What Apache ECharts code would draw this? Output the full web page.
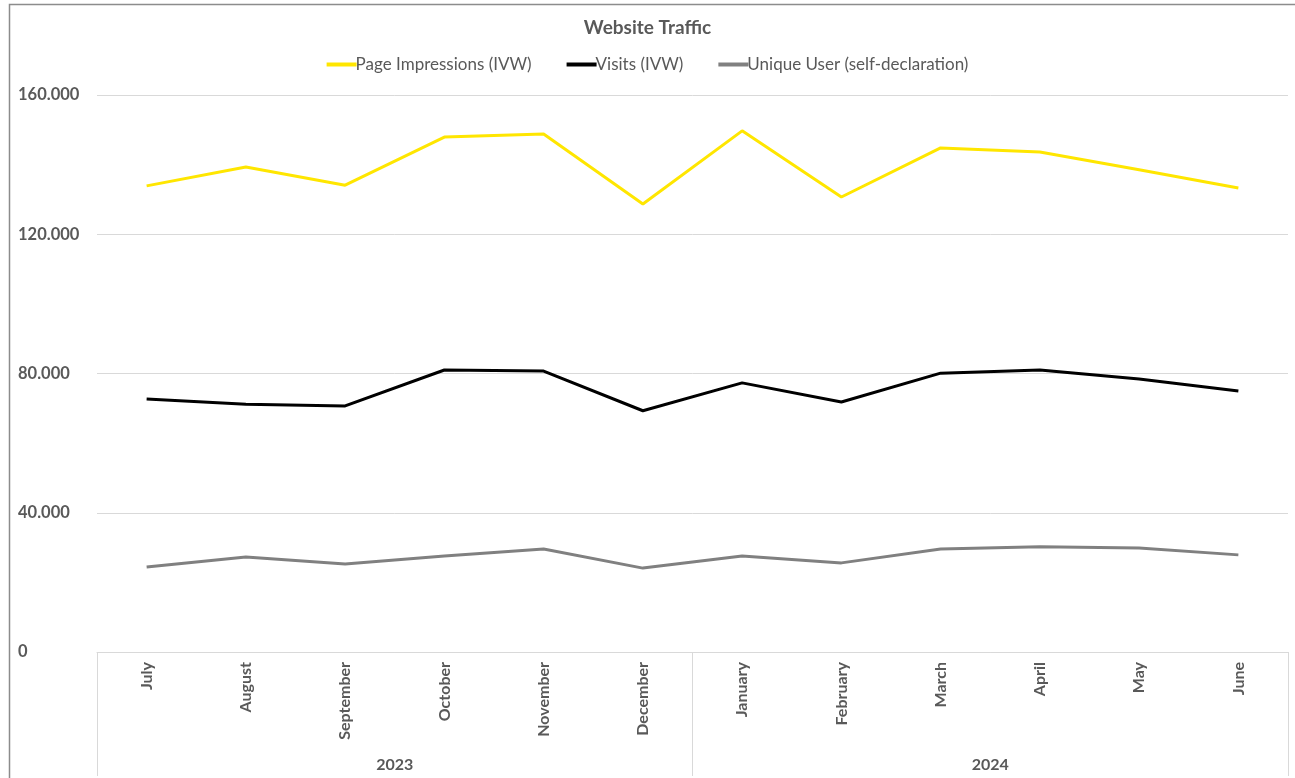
<!DOCTYPE html>
<html>
<head>
<meta charset="utf-8">
<style>
  html, body { margin: 0; padding: 0; background: #fff; }
  #chart { width: 1295px; height: 778px; }
</style>
<script src="https://cdn.jsdelivr.net/npm/echarts@6/dist/echarts.min.js"></script>
</head>
<body>
<div id="chart"></div>
<script>
const months = ['July','August','September','October','November','December','January','February','March','April','May','June'];
const years = ['2023','2024'];
const pageImpressions = [133900, 139300, 134100, 147900, 148800, 128700, 149700, 130700, 144800, 143600, 138500, 133300];
const visits = [72700, 71200, 70700, 81000, 80700, 69300, 77300, 71800, 80100, 81000, 78400, 75000];
const uniqueUsers = [24400, 27300, 25300, 27600, 29600, 24100, 27600, 25600, 29600, 30200, 29900, 27900];
const yTicks = [0, 40000, 80000, 120000, 160000];

const FONT = 'Lato, "Open Sans", sans-serif';
const TXT = '#595959';

function fmt(v) {
  return String(v).replace(/\B(?=(\d{3})+(?!\d))/g, '.');
}

const chart = echarts.init(document.getElementById('chart'), null, { renderer: 'canvas' });
chart.setOption({
  animation: false,
  backgroundColor: '#ffffff',
  title: {
    text: 'Website Traffic',
    left: 'center',
    top: 13,
    textStyle: { fontFamily: FONT, fontSize: 19, fontWeight: 'bold', color: TXT }
  },
  legend: {
    top: 51,
    left: 'center',
    itemGap: 35,
    itemWidth: 30,
    itemHeight: 4,
    icon: 'rect',
    textStyle: { fontFamily: FONT, fontSize: 17, color: TXT, padding: [0, 0, 0, -6] },
    data: ['Page Impressions (IVW)', 'Visits (IVW)', 'Unique User (self-declaration)']
  },
  graphic: [{
    type: 'rect',
    shape: { x: 9.5, y: 4.5, width: 1400, height: 900 },
    style: { fill: 'none', stroke: '#8c8c8c', lineWidth: 1.5 },
    silent: true,
    z: 0
  }],
  grid: { left: 97, right: 7, top: 95, bottom: 126, containLabel: false },
  xAxis: [{
    type: 'category',
    data: months,
    boundaryGap: true,
    axisLine: { show: true, lineStyle: { color: '#d9d9d9', width: 1 } },
    axisTick: { show: false },
    axisLabel: {
      rotate: 90,
      interval: 0,
      margin: 10,
      fontFamily: FONT,
      fontSize: 16,
      fontWeight: 'bold',
      color: TXT
    }
  }, {
    type: 'category',
    data: years,
    position: 'bottom',
    boundaryGap: true,
    axisLine: { show: false },
    axisTick: { show: true, length: 124, interval: 0, lineStyle: { color: '#d9d9d9', width: 1 } },
    axisLabel: {
      margin: 105,
      fontFamily: FONT,
      fontSize: 16,
      fontWeight: 'bold',
      color: TXT
    }
  }],
  yAxis: {
    type: 'value',
    min: 0,
    max: 160000,
    interval: 40000,
    axisLine: { show: false },
    axisTick: { show: false },
    splitLine: { show: true, lineStyle: { color: '#d9d9d9', width: 1 } },
    axisLabel: {
      align: 'left',
      margin: 79,
      fontFamily: FONT,
      fontSize: 16.5,
      fontWeight: 'bold',
      color: TXT,
      formatter: function (v) { return yTicks.indexOf(v) >= 0 ? fmt(v) : ''; }
    }
  },
  series: [{
    name: 'Page Impressions (IVW)',
    type: 'line',
    data: pageImpressions,
    symbol: 'none',
    color: '#FFE600',
    lineStyle: { color: '#FFE600', width: 3 }
  }, {
    name: 'Visits (IVW)',
    type: 'line',
    data: visits,
    symbol: 'none',
    color: '#000000',
    lineStyle: { color: '#000000', width: 3 }
  }, {
    name: 'Unique User (self-declaration)',
    type: 'line',
    data: uniqueUsers,
    symbol: 'none',
    color: '#808080',
    lineStyle: { color: '#808080', width: 3 }
  }]
});
</script>
</body>
</html>
